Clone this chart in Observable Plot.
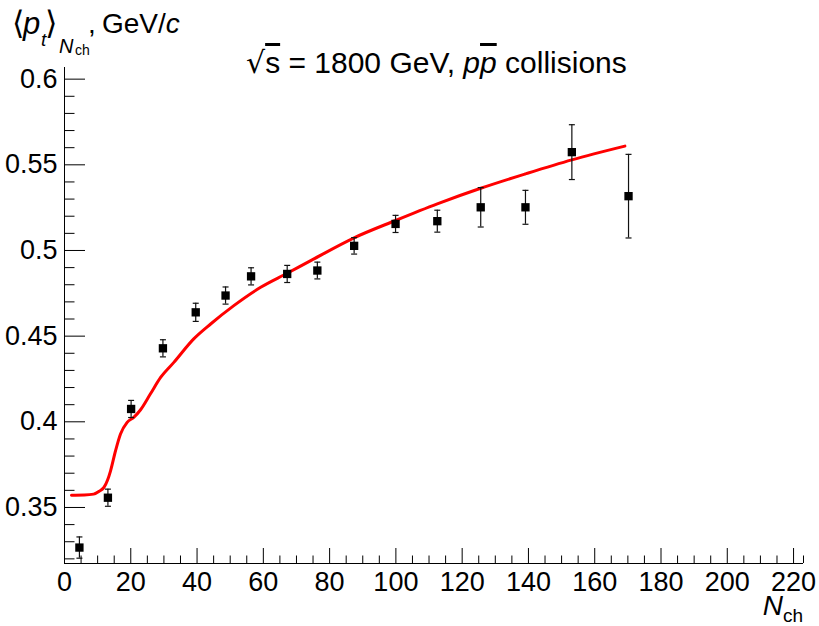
<!DOCTYPE html>
<html><head><meta charset="utf-8">
<script src="https://cdn.jsdelivr.net/npm/d3@7"></script>
<script src="https://cdn.jsdelivr.net/npm/@observablehq/plot@0.6"></script>
<style>body{margin:0;background:#fff}</style>
</head><body><div id="chart"></div>
<script>
// Data points: charged multiplicity, mean pT, error
const nch    = [4.5, 13.1, 20.1, 29.7, 39.6, 48.6, 56.3, 67.2, 76.3, 87.4, 99.9, 112.5, 125.6, 139.1, 153.1, 170.2];
const meanPt = [0.3266, 0.3557, 0.4075, 0.4429, 0.4639, 0.4737, 0.4849, 0.4863, 0.4883, 0.5027, 0.5155, 0.5171, 0.5252, 0.5252, 0.5574, 0.5317];
const ptErr  = [0.0062, 0.0050, 0.0050, 0.0050, 0.0053, 0.0050, 0.0050, 0.0050, 0.0049, 0.0048, 0.0050, 0.0064, 0.0115, 0.0099, 0.0160, 0.0244];
// Model curve
const curveNch = [2.1, 6.0, 8.8, 10.5, 11.9, 13.0, 13.9, 15.4, 16.9, 18.9, 20.9, 22.9, 25.9, 29.0, 33.0, 39.0, 44.1, 51.1, 59.2, 67.2, 74.3, 87.4, 99.9, 112.5, 125.6, 139.1, 153.1, 169.1];
const curvePt  = [0.3572, 0.3573, 0.3578, 0.3595, 0.3617, 0.3660, 0.3714, 0.3831, 0.3929, 0.3997, 0.4026, 0.4069, 0.4162, 0.4259, 0.4347, 0.4484, 0.4571, 0.4678, 0.4785, 0.4867, 0.4941, 0.5074, 0.5175, 0.5272, 0.5363, 0.5447, 0.5529, 0.5609];
// Axis ticks
const xTickLabels = [0, 20, 40, 60, 80, 100, 120, 140, 160, 180, 200, 220];
const yTickLabels = [0.35, 0.4, 0.45, 0.5, 0.55, 0.6];
const xDomain = [0, 223];
const yDomain = [0.3173, 0.6068];

const xMinor = d3.range(0, 221, 5).filter(v => v % 20 !== 0).concat([223]);
const yMinor = d3.range(32, 61, 1).map(v => v / 100).filter(v => !yTickLabels.some(t => Math.abs(t - v) < 1e-9));

const points = nch.map((n, i) => ({n, v: meanPt[i], e: ptErr[i]}));
const curve = curveNch.map((n, i) => ({n, v: curvePt[i]}));

const W = 819, H = 626, ML = 64, MR = 16, MT = 67, MB = 63;
const PW = W - ML - MR, PH = H - MT - MB;

const capSymbol = {draw(ctx, size) { ctx.moveTo(-3, 0); ctx.lineTo(3, 0); }};
const FONT = "'Liberation Sans', Arial, Helvetica, sans-serif";

const plot = Plot.plot({
  width: W, height: H,
  marginLeft: ML, marginRight: MR, marginTop: MT, marginBottom: MB,
  style: {fontFamily: FONT, fontSize: "27px", color: "#000", background: "#fff", overflow: "visible"},
  x: {domain: xDomain},
  y: {domain: yDomain},
  marks: [
    Plot.axisX({ticks: xTickLabels, tickSize: 0, tickPadding: 8, label: null, tickFormat: d => String(d), fill: "#000"}),
    Plot.axisY({ticks: yTickLabels, tickSize: 0, tickPadding: 7, label: null, tickFormat: d => String(+d.toFixed(2)), fill: "#000"}),
    Plot.tickY(yTickLabels, {y: d => d, insetRight: PW - 21, stroke: "#000", strokeWidth: 1}),
    Plot.tickY(yMinor, {y: d => d, insetRight: PW - 10.5, stroke: "#000", strokeWidth: 1}),
    Plot.tickX(xTickLabels, {x: d => d, insetTop: PH - 15, stroke: "#000", strokeWidth: 1}),
    Plot.tickX(xMinor, {x: d => d, insetTop: PH - 7.5, stroke: "#000", strokeWidth: 1}),
    Plot.ruleX([xDomain[0]], {stroke: "#000", strokeWidth: 1}),
    Plot.ruleY([yDomain[0]], {stroke: "#000", strokeWidth: 1}),
    Plot.line(curve, {x: "n", y: "v", stroke: "#ff0000", strokeWidth: 3, curve: "monotone-x"}),
    Plot.ruleX(points, {x: "n", y1: d => d.v - d.e, y2: d => d.v + d.e, stroke: "#111", strokeWidth: 1.2}),
    Plot.dot(points, {x: "n", y: d => d.v + d.e, symbol: capSymbol, stroke: "#111", strokeWidth: 1.2, r: 3}),
    Plot.dot(points, {x: "n", y: d => d.v - d.e, symbol: capSymbol, stroke: "#111", strokeWidth: 1.2, r: 3}),
    Plot.dot(points, {x: "n", y: "v", symbol: "square", r: 4.7, fill: "#000", stroke: "none"})
  ]
});

const svg = d3.select(plot);
// Y axis title: <p_t>_{N_ch}, GeV/c
const yt = svg.append("text").attr("text-anchor", "start").attr("font-size", 28).attr("fill", "#000").style("font-family", FONT);
yt.append("tspan").attr("x", 12).attr("y", 34).style("font-family", "'DejaVu Sans', sans-serif").attr("font-size", 32).text("⟨");
yt.append("tspan").attr("x", 23).attr("y", 34).attr("font-style", "italic").attr("font-size", 31).text("p");
yt.append("tspan").attr("x", 41).attr("y", 46).attr("font-style", "italic").attr("font-size", 19).text("t");
yt.append("tspan").attr("x", 45).attr("y", 34).style("font-family", "'DejaVu Sans', sans-serif").attr("font-size", 32).text("⟩");
yt.append("tspan").attr("x", 59).attr("y", 53).attr("font-style", "italic").attr("font-size", 20).text("N");
yt.append("tspan").attr("x", 75).attr("y", 55).attr("font-size", 14).text("ch");
yt.append("tspan").attr("x", 88).attr("y", 33).text(",");
yt.append("tspan").attr("x", 102).attr("y", 33).text("GeV/");
yt.append("tspan").attr("font-style", "italic").text("c");

// Title
const tt = svg.append("text").attr("x", 246).attr("y", 73).attr("text-anchor", "start").attr("font-size", 30).attr("fill", "#000").style("font-family", FONT);
tt.append("tspan").style("font-family", "'DejaVu Sans', sans-serif").text("√");
tt.append("tspan").style("text-decoration", "overline").text("s");
tt.append("tspan").text(" = 1800 GeV, ");
tt.append("tspan").attr("font-style", "italic").text("p");
tt.append("tspan").attr("font-style", "italic").style("text-decoration", "overline").text("p");
tt.append("tspan").text(" collisions");

// X axis title
const xt = svg.append("text").attr("x", 803).attr("y", 615).attr("text-anchor", "end").attr("font-size", 28).attr("fill", "#000").style("font-family", FONT);
xt.append("tspan").attr("font-style", "italic").text("N");
xt.append("tspan").attr("font-size", 19).attr("dy", 7).text("ch");

document.getElementById("chart").append(plot);
</script>
</body></html>
